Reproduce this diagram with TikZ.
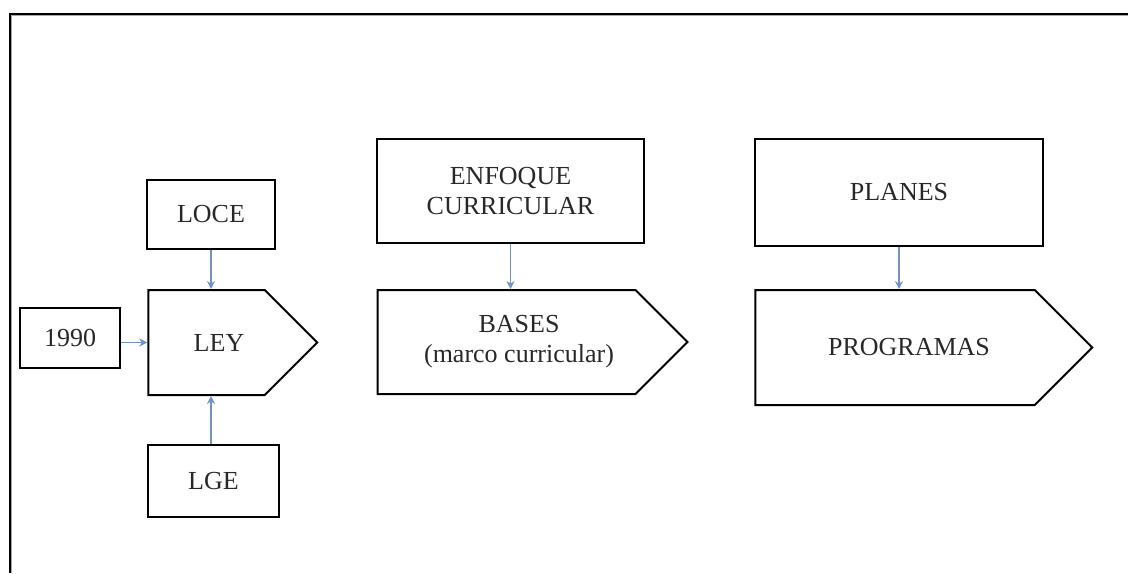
\documentclass[tikz,border=0pt]{standalone}
\usepackage{fontspec}
\setmainfont{Liberation Serif}
\usepackage{xcolor}
\usetikzlibrary{shapes.symbols,arrows.meta}

\definecolor{azul}{RGB}{112,146,196}
\definecolor{texto}{RGB}{40,40,40}

\tikzset{
  caja/.style={draw, line width=1pt, text=texto, align=center, inner sep=2pt,
    font=\fontsize{13}{15}\selectfont},
  punta/.style={caja, signal, signal to=east, signal pointer angle=90},
  flecha/.style={azul, line width=0.9pt, -{Stealth[length=4pt,width=4pt]}}
}

\begin{document}
\begin{tikzpicture}[x=0.5pt,y=-0.5pt]
\useasboundingbox (0,0) rectangle (1128,573);
% marco
\draw[line width=1pt] (10,573) -- (10,14) -- (1128,14);
\draw[black!35, line width=0.5pt] (11.5,573) -- (11.5,15.5) -- (1128,15.5);

% ley
\node[caja, minimum width=50pt, minimum height=30pt] (anio) at (70,338) {1990};
\node[punta, minimum width=84.5pt, minimum height=52.5pt] (ley) at (206.5,342.5) {\hspace*{12.5pt}LEY};
\node[caja, minimum width=64pt, minimum height=34.5pt] (loce) at (211,214.5) {LOCE};
\node[caja, minimum width=65.5pt, minimum height=36pt] (lge) at (213.5,481) {LGE};

% bases
\node[caja, minimum width=133.5pt, minimum height=52pt] (enfoque) at (510.5,191) {ENFOQUE\\CURRICULAR};
\node[punta, minimum width=155pt, minimum height=52pt] (bases) at (506.5,342) {\hspace*{12.5pt}BASES\\\hspace*{12.5pt}(marco curricular)};

% programas
\node[caja, minimum width=144pt, minimum height=53.5pt] (planes) at (899,192.5) {PLANES};
\node[punta, minimum width=168.5pt, minimum height=57.5pt] (programas) at (895,347.5) {\hspace*{14pt}PROGRAMAS};

\draw[flecha] (anio.east |- ley.west) -- (ley.west);
\draw[flecha] (loce.south) -- (loce.south |- ley.north);
\draw[flecha] (lge.north -| loce.south) -- (loce.south |- ley.south);
\draw[flecha] (enfoque.south) -- (enfoque.south |- bases.north);
\draw[flecha] (planes.south) -- (planes.south |- programas.north);
\end{tikzpicture}
\end{document}
